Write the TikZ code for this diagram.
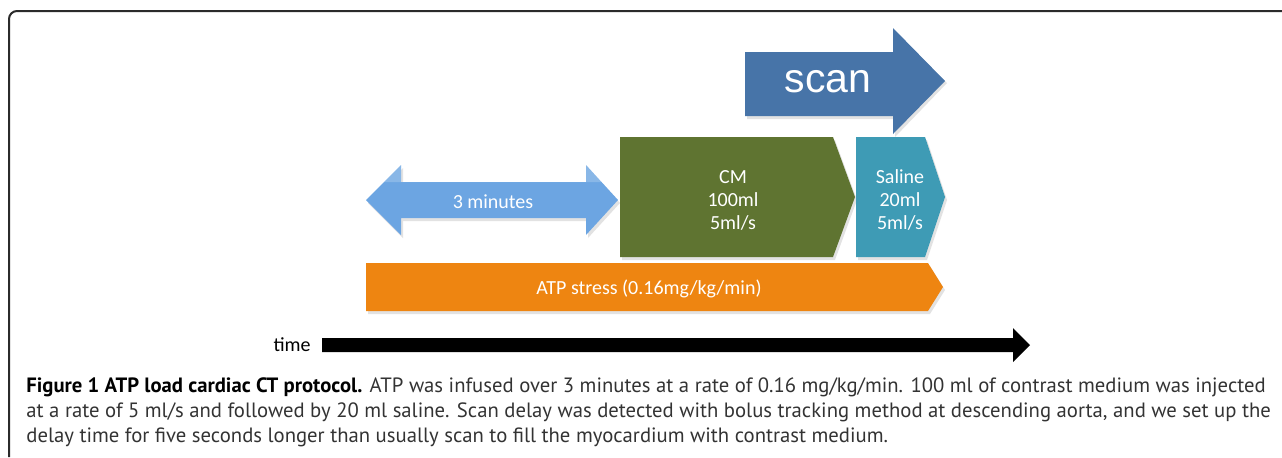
\documentclass[tikz,border=0pt]{standalone}
\usepackage{fontspec}
\setmainfont{Carlito}
\newfontfamily\scanfont{Liberation Sans}
\newfontfamily\capfont{PT Sans}
\definecolor{scanblue}{HTML}{4774A8}
\definecolor{minblue}{HTML}{6CA5E2}
\definecolor{cmgreen}{HTML}{5F7431}
\definecolor{salteal}{HTML}{3E9BB5}
\definecolor{atporange}{HTML}{EE8511}
\definecolor{frame}{HTML}{2B2B2B}
\definecolor{captext}{HTML}{333333}
\tikzset{
  lbl/.style={text=white,font=\fontsize{10}{11.5}\selectfont,align=center},
  capline/.style={anchor=base west,inner sep=0pt,text=captext,font=\capfont\fontsize{10.35}{12.5}\selectfont},
  shade/.style={fill=black!25,opacity=.45}
}
\begin{document}
\begin{tikzpicture}[x=0.5pt,y=-0.5pt]
  \useasboundingbox (0,0) rectangle (1282,457);
  % frame
  \draw[frame,line width=1pt,rounded corners=4pt] (9,457) -- (9,11) -- (1282,11);

  % scan
  \fill[shade] (747,55) -- (895,55) -- (895,31) -- (947,83) -- (895,137) -- (895,119) -- (747,119) -- cycle;
  \fill[scanblue] (745,52) -- (893,52) -- (893,28) -- (945,81) -- (893,134) -- (893,116) -- (745,116) -- cycle;
  \node[text=white,font=\scanfont\fontsize{20.5}{22}\selectfont] (scan) at (828,82) {scan};

  % 3 minutes
  \fill[shade] (368,203) -- (403,168) -- (403,185) -- (588,185) -- (588,168) -- (620,203)
    -- (588,238) -- (588,221) -- (403,221) -- (403,238) -- cycle;
  \fill[minblue]
    (366,200) -- (401,165) -- (401,182) -- (586,182) -- (586,165) -- (618,200)
    -- (586,235) -- (586,218) -- (401,218) -- (401,235) -- cycle;
  \fill[white,opacity=.2] (384,182) -- (401,165) -- (401,182) -- (586,182) -- (586,165) -- (603,182) -- (586,182) -- cycle;
  \node[lbl] (mins) at (493,202) {3 minutes};

  % injections
  \fill[shade] (622,140) -- (835,140) -- (857,200) -- (835,260) -- (622,260) -- cycle;
  \fill[cmgreen] (620,137) -- (833,137) -- (855,197) -- (833,257) -- (620,257) -- cycle;
  \node[lbl] (cm) at (733,200) {CM\\100ml\\5ml/s};
  \fill[shade] (858,140) -- (927,140) -- (947,200) -- (927,260) -- (858,260) -- cycle;
  \fill[salteal] (856,137) -- (925,137) -- (945,197) -- (925,257) -- (856,257) -- cycle;
  \node[lbl] (sal) at (900,200) {Saline\\20ml\\5ml/s};

  % ATP stress
  \fill[shade] (368,266) -- (930,266) -- (945,290) -- (930,314) -- (368,314) -- cycle;
  \fill[atporange] (366,263) -- (928,263) -- (943,287) -- (928,311) -- (366,311) -- cycle;
  \node[lbl] (atp) at (649,289) {ATP stress (0.16mg/kg/min)};

  % time axis
  \node[anchor=east,inner sep=0pt,font=\fontsize{10}{11}\selectfont] (time) at (311,345) {time};
  \fill[black] (322,338) -- (1013,338) -- (1013,328) -- (1030,345) -- (1013,362) -- (1013,352) -- (322,352) -- cycle;

  % caption
  \node[capline] (cap1) at (26,392) {\textbf{\color{black}Figure 1 ATP load cardiac CT protocol.} ATP was infused over 3 minutes at a rate of 0.16 mg/kg/min. 100 ml of contrast medium was injected};
  \node[capline] (cap2) at (26,417) {at a rate of 5 ml/s and followed by 20 ml saline. Scan delay was detected with bolus tracking method at descending aorta, and we set up the};
  \node[capline] (cap3) at (26,442) {delay time for five seconds longer than usually scan to fill the myocardium with contrast medium.};
\end{tikzpicture}
\end{document}
